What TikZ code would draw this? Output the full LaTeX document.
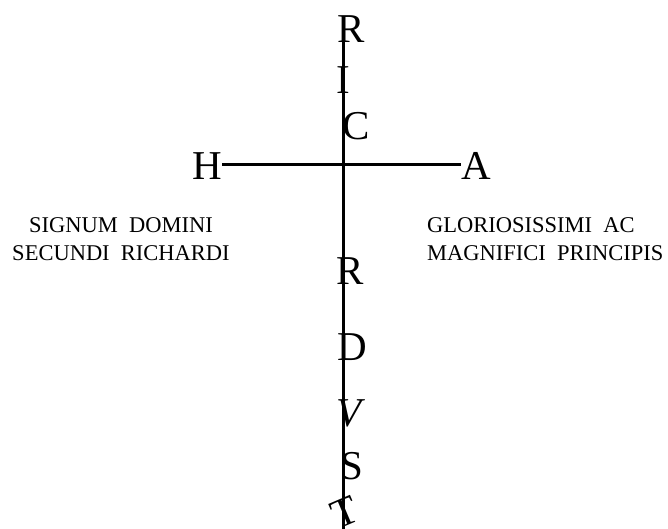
\documentclass[tikz,border=0pt]{standalone}
\usepackage{fontspec}
\setmainfont{Liberation Serif}
\begin{document}
\begin{tikzpicture}[x=1pt,y=-1pt,
  big/.style={inner sep=0pt,font=\fontsize{41}{41}\selectfont},
  side/.style={inner sep=0pt,font=\fontsize{22.5}{28}\selectfont},
  bar/.style={line width=3pt}]
\useasboundingbox (0,0) rectangle (668,529);
% letters
\node[big] (r1) at (351,29) {R};
\node[big] (i1) at (343,80) {I};
\node[big] (c1) at (356,126) {C};
\node[big] (h)  at (207,166) {H};
\node[big] (a)  at (476,166) {A};
\node[big] (r2) at (350,271) {R};
\node[big] (d)  at (352,347) {D};
\node[big,font=\fontsize{41}{41}\selectfont\itshape] (v) at (349,413) {V};
\node[big] (s)  at (352,466) {S};
\node[big,rotate=23] (t) at (345,512) {T};
\coordinate (top) at (343,18);
\coordinate (bot) at (343,529);
\coordinate (cross) at (343,165);
\draw[bar] (top) -- (bot);
\draw[bar] (h.east |- cross) -- (a.west |- cross);
% side texts
\node[side,align=center,anchor=north] (left) at (121,217) {SIGNUM\ \ DOMINI\\SECUNDI\ \ RICHARDI};
\node[side,align=left,anchor=north west] (right) at (427,217) {GLORIOSISSIMI\ \ AC\\MAGNIFICI\ \ PRINCIPIS};
\end{tikzpicture}
\end{document}
